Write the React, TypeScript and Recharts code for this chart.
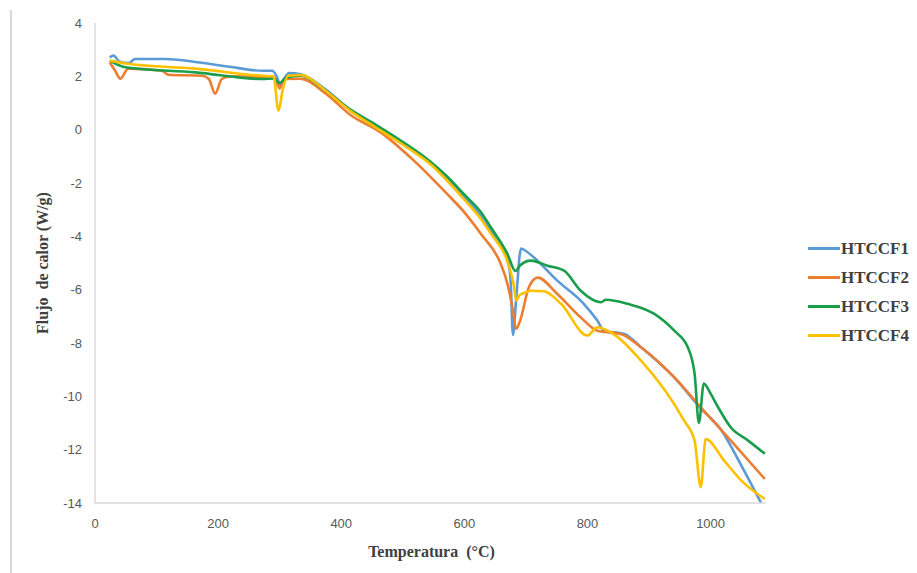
import { LineChart, Line, XAxis, YAxis } from "recharts";

// DSC heat-flow curves of the four HTCCF samples
const seriesNames = ["HTCCF1", "HTCCF2", "HTCCF3", "HTCCF4"];
const seriesColors = ["#5B9BD5", "#ED7D31", "#1A9E4B", "#FFC000"];

const temp1 = [24, 30, 40, 55, 65, 114, 160, 216, 272, 288, 295, 301, 307, 315, 334, 375, 415, 455, 496, 545, 599, 627, 643, 670, 675, 679, 684, 692, 700, 713, 751, 794, 816, 827, 860, 887, 941, 984, 1017, 1050, 1082];
const flow1 = [2.71, 2.78, 2.55, 2.5, 2.65, 2.65, 2.55, 2.37, 2.21, 2.21, 2.0, 1.68, 1.9, 2.12, 2.08, 1.5, 0.72, 0.12, -0.48, -1.25, -2.5, -3.25, -3.8, -4.85, -5.6, -7.7, -6.4, -4.46, -4.55, -4.79, -5.66, -6.53, -7.16, -7.54, -7.66, -8.16, -9.29, -10.45, -11.25, -12.6, -14.0];

const temp2 = [24, 33, 41, 54, 109, 119, 174, 185, 195, 206, 220, 272, 292, 300, 308, 334, 375, 415, 464, 518, 572, 600, 627, 659, 670, 679, 684, 690, 705, 719, 751, 789, 816, 854, 887, 941, 984, 1033, 1088];
const flow2 = [2.52, 2.2, 1.91, 2.29, 2.21, 2.06, 2.02, 1.9, 1.35, 1.9, 2.0, 1.96, 1.93, 1.55, 1.9, 1.91, 1.35, 0.55, -0.1, -1.16, -2.41, -3.1, -3.91, -5.03, -5.78, -6.8, -7.47, -7.2, -5.9, -5.55, -6.16, -7.04, -7.54, -7.66, -8.16, -9.29, -10.41, -11.66, -13.1];

const temp3 = [24, 49, 163, 272, 290, 300, 310, 334, 375, 415, 455, 496, 545, 572, 599, 627, 643, 670, 683, 690, 708, 735, 762, 789, 822, 830, 865, 908, 941, 963, 974, 981, 989, 1000, 1012, 1033, 1061, 1088];
const flow3 = [2.59, 2.34, 2.15, 1.9, 1.92, 1.75, 1.95, 2.02, 1.45, 0.75, 0.2, -0.4, -1.2, -1.75, -2.41, -3.1, -3.66, -4.66, -5.3, -5.1, -4.91, -5.1, -5.29, -6.04, -6.47, -6.38, -6.53, -6.9, -7.54, -8.16, -9.15, -11.0, -9.52, -9.9, -10.4, -11.17, -11.66, -12.15];

const temp4 = [24, 54, 163, 272, 290, 298, 305, 314, 334, 375, 415, 455, 496, 545, 599, 627, 643, 670, 680, 684, 690, 700, 708, 729, 757, 800, 816, 833, 887, 957, 974, 984, 992, 1022, 1050, 1088];
const flow4 = [2.59, 2.47, 2.29, 2.02, 2.0, 0.71, 1.5, 2.02, 2.05, 1.45, 0.7, 0.1, -0.5, -1.3, -2.6, -3.35, -3.9, -4.95, -5.8, -6.4, -6.2, -6.1, -6.04, -6.06, -6.53, -7.72, -7.41, -7.54, -8.66, -10.91, -11.66, -13.41, -11.6, -12.41, -13.16, -13.85];

const xTicks = [0, 200, 400, 600, 800, 1000];
const yTicks = [-14, -12, -10, -8, -6, -4, -2, 0, 2, 4];

const temps = [temp1, temp2, temp3, temp4];
const flows = [flow1, flow2, flow3, flow4];

const series = seriesNames.map((name, s) => ({
  name,
  color: seriesColors[s],
  data: temps[s].map((t, i) => ({ t, v: flows[s][i] })),
}));

const TITLE_FONT = "'Liberation Serif', 'Times New Roman', serif";
const TICK_FONT = "'Liberation Sans', Arial, sans-serif";

// plot box: left 95, top 23, 671 x 480
const PLOT_TOP = 23;
const PLOT_H = 480;

function YTitle() {
  const x = 42;
  const y = PLOT_TOP + PLOT_H / 2;
  return (
    <text
      x={x}
      y={y}
      fill="#404040"
      fontFamily={TITLE_FONT}
      fontSize={16}
      fontWeight={700}
      textAnchor="middle"
      dominantBaseline="central"
      transform={`rotate(-90 ${x} ${y})`}
      style={{ whiteSpace: "pre" }}
    >
      {"Flujo  de calor (W/g)"}
    </text>
  );
}

function XTitle(props: { viewBox?: { x?: number; y?: number; width?: number } }) {
  const vx = props.viewBox?.x ?? 0;
  const vy = props.viewBox?.y ?? 0;
  const vw = props.viewBox?.width ?? 0;
  return (
    <text
      x={vx + vw / 2 + 1}
      y={vy + 54}
      fill="#404040"
      fontFamily={TITLE_FONT}
      fontSize={16}
      fontWeight={700}
      textAnchor="middle"
      style={{ whiteSpace: "pre" }}
    >
      {"Temperatura  (°C)"}
    </text>
  );
}

function LegendList() {
  return (
    <div style={{ position: "absolute", left: 808, top: 234, fontFamily: TITLE_FONT }}>
      {series.map((s) => (
        <div key={s.name} style={{ display: "flex", alignItems: "center", height: 29 }}>
          <div style={{ width: 32, height: 3, background: s.color }} />
          <span style={{ fontSize: 17, fontWeight: 700, color: "#404040", marginLeft: 1 }}>
            {s.name}
          </span>
        </div>
      ))}
    </div>
  );
}

export default function App() {
  return (
    <div
      style={{
        position: "absolute",
        left: 0,
        top: 0,
        width: 917,
        height: 573,
        background: "#ffffff",
      }}
    >
      <div
        style={{ position: "absolute", left: 10, top: 10, width: 2, bottom: 0, background: "#D9D9D9" }}
      />
      <LineChart width={917} height={573} margin={{ top: PLOT_TOP, right: 151, left: 45, bottom: 40 }}>
        <XAxis
          dataKey="t"
          type="number"
          domain={[0, 1090]}
          ticks={xTicks}
          allowDuplicatedCategory={false}
          height={30}
          tickLine={false}
          axisLine={{ stroke: "#D9D9D9", strokeWidth: 1.5 }}
          tickMargin={10}
          tick={{ fill: "#595959", fontSize: 13, fontFamily: TICK_FONT }}
          label={<XTitle />}
        />
        <YAxis
          type="number"
          domain={[-14, 4]}
          ticks={yTicks}
          width={50}
          tickLine={false}
          axisLine={{ stroke: "#D9D9D9", strokeWidth: 1.5 }}
          tickMargin={7}
          tick={{ fill: "#595959", fontSize: 13, fontFamily: TICK_FONT }}
          label={<YTitle />}
        />
        {series.map((s) => (
          <Line
            key={s.name}
            data={s.data}
            dataKey="v"
            name={s.name}
            type="monotone"
            stroke={s.color}
            strokeWidth={2.6}
            dot={false}
            isAnimationActive={false}
          />
        ))}
      </LineChart>
      <LegendList />
    </div>
  );
}
